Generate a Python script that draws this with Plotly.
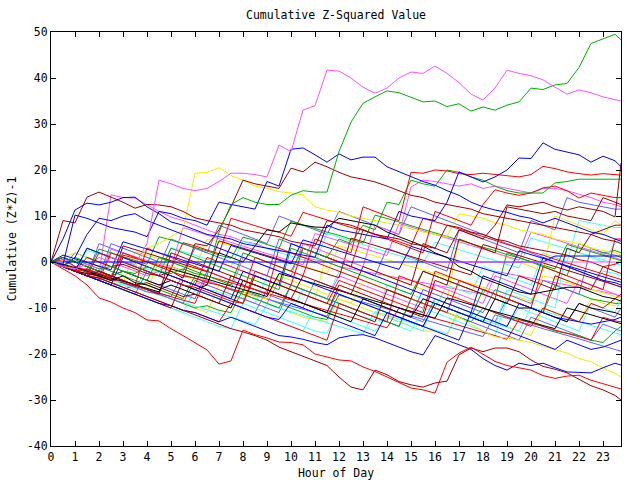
import plotly.graph_objects as go

# Half-hourly sample times (hours), last sample at 23:45
HOURS = [i * 0.5 for i in range(48)] + [23.75]

# colours (gnuplot-like palette)
RED = "#ff0000"; GREEN = "#00b000"; BLUE = "#0000ff"; MAGENTA = "#ff50ff"
CYAN = "#40ffff"; DARKRED = "#a00000"; YELLOW = "#eeee00"; SLATE = "#6060ff"; BLACK = "#000000"

# ---- series values (cumulative (Z*Z)-1), one per day ----
M1 = [0,-1,-1.5,-0.5, -1.5,1,0,-0.5, 4,17.8,17,16, 15.5,16,17.5,19.3, 19.3,19,18.5,25.4, 24,33,34,41.7,
      41.5,40,38,36.7, 37.8,40,41.3,41, 42.6,41,39,36.5, 35.2,37.8,41.7,41, 40.5,39.6,38,36.5, 37.4,36.8,35.9,35.3, 35]
G1 = [0,-1,0.5,-0.5, -1.5,-1,-2,-2.5, -1,-2,-2.5,-1.5, -2.5,-3,6.5,12.5, 14,13,12.5,12.5, 14.5,15.5,15.2,15.2,
      24,30.4,34.5,35.9, 37.2,36.8,35.8,34.8, 35,33.8,34.4,32.8, 33.7,33,34.1,34.8, 37.8,37.5,38.5,38.8, 42.3,47.5,48.5,49.5, 48.3]
B1 = [0,-0.5,10.2,9.5, 8.5,7.5,7,6.5, 5.5,11,10.5,9.5, 9,8,13,12.5, 12,11.5,17.5,16.5, 24.5,24.8,23.3,21.7,
      23.5,22.2,22.8,22.8, 20.7,19.6,18.5,17.5, 16.7,15.5,14.5,13, 12,11.3,10.8,10, 9.5,8.5,9.5,8.5, 7.5,6.5,6,5, 4.5]
B2 = [0,5,11.3,12.8, 12.4,13,14,14.1, 12,10.5,8.7,8, 7,6,5.5,5, 4,3.5,3,2.5, 2,1.5,1,8,
      7,6.5,6,5.5, 5,11,10,9.5, 9,13,19.6,18.5, 17.4,18.5,20,22.6, 22.5,25.9,24.5,23.9, 23.3,21.7,23,22, 20.7]
R1 = [0,-1.5,-3,-5, -7.8,-8.7,-10,-11, -12.6,-12.8,-14.5,-16, -17.5,-19.1,-22.2,-21.5, -14.8,-15.8,-16.5,-17.4, -17.5,-18,-20,-20.7,
      -21.3,-21.5,-22.8,-23.8, -25,-26.3,-27.4,-27.8, -28.5,-21.8,-19.8,-18.5, -20,-21.6,-22.5,-23, -23.5,-24.7,-25.3,-24.8, -24.6,-25.7,-26.5,-27.3, -27.6]
DR1 = [0,-1,-2,-3, -3.5,-4.5,-5.5,-6.5, -7.5,-8.5,-9.5,-10.5, -11.5,-12.5,-13.5,-14.5, -15.2,-16,-17,-18.5, -19.5,-20.5,-21.5,-22.5,
       -25,-27.2,-27.8,-23.5, -24.5,-26,-26.7,-27.2, -26.3,-25.9,-20.2,-18.7, -19.5,-18.7,-18.7,-19.5, -21.3,-22.7,-23.3,-24.1, -25.5,-26.9,-27.8,-29, -30]
B3 = [0,-1,-2,-3, -4,-5,-6,-7, -8,-9,-9.5,-10.5, -11,-12,-13,-12, -13,-14,-15,-16, -16.3,-16.8,-17.5,-18,
      -16.5,-16,-15.8,-16.5, -17.5,-18.5,-19.5,-20.2, -16,-17,-18,-19, -21,-22.5,-23.5,-22, -22.5,-22,-23,-23.9, -24,-24.1,-23,-22, -22.4]
Y1 = [0,-1,-1.5,-2.5, -3.5,-4.5,-4,-5, -6,0,-1,-2, -3,-4,-5,-6, -6.5,-7.5,-8,-3, -4,-5,-6,-7,
      -8,-9,-4,-5, -6,-7,-8,-9, -10,-11,-12,-13.5, -15,-16.3,-16.5,-17, -17.5,-18.3,-19,-19.8, -21,-21.7,-23,-24.2, -25]
DR2 = [0,9,8.5,14.1, 15.2,14.1,13,11.7, 12.5,12.4,12,11, 9.6,9,8.5,8, 7,6.5,6,5.5, 4.5,4,3.5,9,
       8.5,8,7,6, 5.5,5,4,3.5, 3,8,7.5,6.5, 6,5,4.5,3.5, 3,2.5,2,1.5, 0.5,0,-1,-2, -2.5]
DR3 = [0,-1,-2,1, 0,-1,-0.5,-1.5, -2.5,-3,-2,-3.5, 4,3.5,7,12, 17.8,17,16.5,16, 20.4,19.6,21.7,20.7,
       19.5,18.5,18,17.4, 16.5,15.5,14.5,14, 13,12.5,12,11.5, 10.5,10,9.5,9, 8.5,8,7.5,7, 6.5,6,5,4.5, 4]
DR4 = [0,-1,-2,-3, -2,-3,-4,-5, -4.5,-5.5,-6.5,-7.5, -7,-8,-9,-3, -4,-5,-6,-7, -8,-3,-4,-5,
       -6,-7,-1,-2, -3,-4,-5,4, 3,2,7,6, 5,8,12.4,12, 12.5,13,12,11.3, 12,11.5,11,9.8, 21.5]
R2 = [0,-1,-2,-1.5, -2.5,-3.5,2,1, 0,-1,-2,-3, -3.5,-4.5,-5,-6, -6.5,1,0,-1, -2,-3,5,4,
      3,2,12,11, 10,9,19.5,19.3, 20,19.8,19.2,19, 19.3,19,18.7,18.5, 19,20.8,20.3,19.6, 19.2,18.9,19.2,19, 18.9]
G2 = [0,1,0,-1, -2,-3,-2,-3, -4,1,0,-1, -2,-3,-4,-5, 2,1,0,-1, -2,3,2,1,
      5,4,8,7, 13,12.5,17.8,17, 16.5,20,19.5,18.5, 17.8,16.5,15.5,15, 15,15,17.2,17.5, 18,18,18,18, 18]
Y2 = [0,1,2,1, 0,-1,0,-1, 3,4,5.5,7, 19.3,19.5,20.5,18.8, 17.8,16.5,16,15.3, 15,14.6,12,11.3,
      10.8,10,9.5,9, 8.5,8,7.2,6.5, 6,5.5,10.5,10, 9.5,8.5,8,7, 6.5,6,5,4.5, 4,3,2.5,2, 1.5]
M2 = [0,-1,-2,-1.5, -2.5,14.6,14,13.9, 12.5,11,9.8,9, 8,7,6,5.5, 4.5,4,3,2.5, 2,1,0.5,0,
      -1,-1.5,-2,-2.5, -3,-3.5,-4,-4.5, -5,-5.5,-6,-6.5, -7,-2,-2.5,-3, -3.5,-4,-4.5,-5, -5.5,-6,-6.5,-7, -7.5]
M3 = [0,1,0,-1, 1,0,-1,-2, -3,-2,-3,-4, -5,-4,-5,-6, 1,0,-1,-2, -3,4,3,2,
      1,0,-1,8, 7,6,16.3,17.8, 17.5,17,16.5,17, 16,16.5,16,15.5, 15,16,16,15.5, 14.8,14,13,12.5, 12]
M4 = [0,-1,-2,-3, -4,-3,-4,-5, -6,-7,-1,-2, -3,-4,-5,-6, -7,-8,-9,-4, -5,-6,-7,-8,
      -3,-4,-5,-6, -7,-8,-9,-10, -5,-6,-7,-8, -9,-3,-4,-5, -6,-7,-8,-9, -4,-5,-6,-7, -7.5]
R3 = [0,-1,-2,-3, 2,1,0,-1, -2,-3,-4,-5, -5.5,-6.5,-7.5,-8.5, -9,-2,-3,-4, -5,3,2,1,
      0,-1,7,6, 5,4,3,2, 11,10,9,8, 12.5,15.7,15,14.5, 15,16.1,16.5,15.5, 13.9,15,14.5,14, 14]
S1 = [0,1,-1,-2, -3,4,3,2, 1,0,-1,-2, 3,2,1,0, -1,-2,-3,5, 4,3,2,1,
      0,-1,-2,-3, 3,2,1,0, -1,-2,7,6, 5,4,3,2, 9,8,7,14, 13,12.5,12,11.5, 11.5]
C1 = [0,-1,-2,-3, -3.5,-4.5,-5,-6, -1,-2,-3,-4, -5,-6,-6.5,-7.5, -8,-9,-3,-4, -5,-6,-7,-8,
      -2,-3,-4,-5, -6,-7,-8,-9, -10,-5,-6,-7, -1,-2,-3,-4, -5,2,1,0, 9,8.5,8,7.5, 7.5]
K1 = [0,1,0,-1, -2,-3,-2,-3, -4,-5,-4,-5, -6,-5,2,1, 0,3.5,7,6.5, 8.5,8,7.6,7.5,
      9.5,9,8.5,8, 6.5,5.5,4.5,3.5, 2,1,-1,-2, -3.5,-4.5,-5.5,-6.5, -7,-6.5,-6,-5.5, -5.5,-6.5,-7.5,-8, -8.5]
K2 = [0,-1,-2,-2.5, -3,-4,-3,-4.5, -5,-6,-5,-6, -7,-8,-9,-10, -4,-5,-6,-7, -8,-9,-10,-11,
      -12,-13,-8,-9, -10,-11,-12,-8, -9,-10,-11,-12, -13,-8,-9,-10, -10,-11,-12,-13, -9,-10,-10.5,-11, -11.5]
B4 = [0,-1,-2,-3, -4,-5,1,0, -1,-2,-3,-4, -5,-6,-7,-8, -2,-3,-4,-5, 4,3,2,1,
      0,-1,-2,-3, -4,-5,-6,-7, -8,-9,-10,-11, -3,-4,-5,-6, -7,1,0,-1, -2,-3,-4,-4.5, -5]
B5 = [0,-1,-2,3, 2,1,0,-1, -2,-3,-4,-5, -6,-7,-8,-9, -10,-11,-12,-12.5, -9,-10,-11,-12,
      -13,-14,-15,-16, -11,-12,-13,-14, -15,-16,-17,-11, -12,-13,-14,-9, -10,-11,-12,-12.5, -13,-13.5,-13,-12.5, -12]
S2 = [0,-1,-2,-3, -4,-5,-6,-7, -2,-3,-4,-5, -6,-7,-8,-9, -10,-11,-6,-7, -8,-9,-10,-11,
      -6,-7,-8,-9, -10,-11,-12,-13, -8,-9,-10,-11, -12,-13,-8,-9, -10,-11,-12,-13, -9,-10,-11,-12, -10]
S3 = [0,-1,-2,-1.5, -2.5,-3.5,-4.5,-5.5, -6.5,-7,-8,-9, -4,-5,-6,-7, -8,-9,-10,-11, -5,-6,-7,-8,
      -9,-10,-11,-12, -13,-14,-8,-9, -10,-11,-12,-13, -14,-15,-16,-17, -12,-13,-14,-15, -16,-17,-13.5,-14.5, -15]
S4 = [0,-1,2,1, 0,-1,-2,-3, -4,-5,-6,-7, -8,-2,-3,-4, -5,-6,-7,-8, -9,-10,-4,-5,
      -6,-7,-8,-9, -10,-11,-12,-6, -7,-8,-9,-10, -11,-6,-7,-8, -9,-4,-5,-6, -7,3,2,1.5, 1]
C2 = [0,-1,-2,-3, -4,-5,-6,-7, -8,-9,-10,-11, -12,-13,-14,-14.5, -9,-10,-11,-12, -13,-14,-15,-15.5,
      -10,-11,-12,-12.5, -13,-14,-15,-10, -11,-12,-13,-14, -15,-16,-8,-9, -10,-11,-3,-4, -5,-6,-2,-2.5, -3]
C3 = [0,1,0,-1, -2,-3,3,2, 1,0,-1,-2, -3,-4,-5,-6, -7,-8,-9,-10, -11,-6,-7,-8,
      -9,-10,-11,-12, -5,-6,-7,-8, -9,-10,-11,-12, -13,-14,-6,-7, -8,-9,-10,3, 2,1,0,4, 5]
G3 = [0,-1,1,0, -1,-2,-3,-4, -5,-6,-7,-8, -3,-4,-5,-6, -7,-8,-9,-10, -5,-6,-7,-8,
      -9,-10,-11,-12, -13,-14,-8,-9, -10,-11,-12,-13, -10,-11,-12,-12.5, -13,-14,-15,-15.5, -16,-17,-17.5,-15, -14]
G4 = [0,-1,-2,3, 2,1,0,-1, -2,-3,3,2, 1,0,-1,-2, -3,-4,-5,-6, 3,2,1,0,
      -1,-2,-3,-4, -5,-6,-7,-2, -3,-4,-5,-6, -7,-8,2,1, 0,-1,-2,-3, 4,3,2,2.5, 2]
G5 = [0,-1,-2,-3, -4,-5,-6,-5, -6,-7,-8,-9, -10,-9.5,-10.5,-11, -6,-7,-8,-9, -10,-11,-12,-12.5,
      -7,-8,-9,-10, -11,-12,-13,-14, -9,-10,-11,-12, -6,-7,-8,-9, -10,-11,-5,-6, -7,-8,-8.5,-9, -9]
R4 = [0,-1,-2,-3, -4,2,1,0, -1,-2,-3,-4, -5,1,0,-1, -2,-3,-4,-5, -6,-7,-8,-9,
      -4,-5,-6,-7, -8,-9,-10,-11, -2,-3,-4,-5, -6,-7,-8,-9, -10,-1,-2,-3, -4,-5,-6,5, 5]
R5 = [0,-1,-2,-3, -3.5,-4.5,-5.5,-6.5, -7.5,-8.5,-9.5,-10.5, -11,-12,-13,-9, -10,-11,-12,-13, -14,-15,-16,-17,
      -9,-10,-11,-12, -13,-3,-4,-5, -6,-7,-8,-9, -10,-11,-12,-13, -14,-10,-11,-12, -13,-9,-10,-8, -7]
R6 = [0,1,0,-1, -2,-3,-4,-5, 3,2,1,0, -1,-2,-3,-4, -5,-6,-7,3, 2,1,0,-1,
      -2,-3,-4,-5, -6,-7,-8,-9, -10,-11,-4,-5, -6,-7,-8,-9, -10,-11,-3,-4, -5,-6,-1,-0.5, 0]
DR5 = [0,-1,-2,-3, -4,-5,-6,-7, -8,-9,-10,-4, -5,-6,-7,-8, -9,-3,-4,-5, -6,-7,-8,-9,
       -10,-11,-12,-13, -6,-7,-8,-2, -3,-4,-5,-6, -7,-8,-9,-3, -4,-5,-6,3, 2,6,7,8, 8]
DR6 = [0,-1,-2,-3, -2,-3,-4,-5, -6,-7,2,1, 0,-1,-2,-3, -4,-5,-6,-7, -8,-9,-10,-11,
       -5,-6,-7,-8, -9,-10,-11,-12, -4,-5,5,4, 3,2,12,11.5, 11,10.5,11,10, 9.5,9,14,13, 12.5]
Y3 = [0,-1,-2,-3, -2,-3,-4,-5, -6,-7,-8,-9, -10,-11,-5,-6, -7,-8,-9,-10, -11,-12,-12.5,-13,
      -8,-9,-10,-11, -12,-13,-14,-15, -15,-16,-10,-11, -12,-13,-14,-15, -16,-10,-11,-12, -13,-8,-9,-9.5, -8]
Y4 = [0,1,0,-1, -2,-3,2,1, 0,-1,-2,-3, -4,-5,-6,-7, -8,-3,-4,-5, -6,-7,-8,2,
      1,0,-1,-2, -3,-4,-5,-6, -7,-8,5,4, 3,2,1,0, -1,-2,10,9, 8,7,6,9, 8]
C4 = [0,-1,-2,-3, -4,-5,-6,-7, -8,-9,-10,-11, -6,-7,-8,-9, -10,-11,-12,-13, -14,-15,-10,-11,
      -12,-13,-14,-15, -12,-13,-14,-15, -8,-9,-10,-11, -12,-13,-14,-10, -11,-12,-13,-14, -15,-9,-10,-11, -8]
B6 = [0,-1,1,6, 9.5,9,10,10.5, 9,8,7,6, 5,4,3,2, 1,0,-1,-2, -3,-4,-5,-6,
      -7,-8,-9,-10, -11,-12,-13,-14, -9,-10,-11,-12, -13,-14,-15,-16, -17,-18,-19,-17, -18,-19,-18.5,-17.5, -17]
N1 = [0,-1,-2,-3, 4,3,2,1, 0,-1,5,4, 3,2,8,7, 6,5,4,10, 9,8,7,6,
      11,10,9,8, 7,6,12,11, 10,9,8,7, 6,5,4,3, 2,1,0,-1, -2,-3,-4,-5, -5.5]
N2 = [0,0.5,-1,-1.8, -2.5,-3.2,1.5,0.8, 0,-0.8,-1.5,4.2, 3.5,2.6,1.8,9.5, 8.7,8,7.1,6.5, 5.6,10.8,10,9.2,
      8.4,7.5,6.9,6, 5.2,4.4,3.5,9.5, 8.8,8,7.2,6.4, 5.5,4.7,3.8,3.1, 2.2,1.5,0.6,-0.2, -1,-1.8,-2.5,-3.4, -3.8]
N3 = [0,-0.7,-1.5,-2.4, 2.8,2,1.2,0.3, -0.5,5.5,4.8,3.9, 3.2,2.4,1.5,0.8, 5.4,4.7,3.8,3, 8.9,8.1,7.2,6.5,
      5.8,5,4.1,10.2, 9.5,8.7,7.9,7.1, 6.4,5.5,4.8,4, 3.2,2.5,1.6,0.9, 0.1,-0.7,-1.5,3.8, 3,2.2,1.5,0.7, 0.3]
N4 = [0,-0.8,-1.7,2.5, 1.7,0.9,0.1,-0.7, -1.5,-2.3,3.1,2.3, 1.5,0.6,-0.2,-1, 4.5,3.7,2.9,2.1, 1.3,0.5,-0.3,6.2,
      5.4,4.5,3.8,3, 2.2,1.4,0.6,-0.2, 4.3,3.5,2.7,1.9, 1.1,0.3,-0.5,-1.3, 5.2,4.4,3.6,2.8, 2,1.2,0.5,-0.3, -0.7]
N5 = [0,-0.9,-1.8,-2.6, -3.5,2.8,2,1.1, 0.3,-0.5,-1.3,7.5, 6.7,5.9,5,4.2, 3.4,2.6,1.8,1, 0.2,-0.6,6.2,5.4,
      4.6,3.8,3,2.2, 1.4,8.4,7.6,6.8, 6,5.2,4.4,3.6, 2.8,2,1.2,0.4, 6.5,5.7,4.9,4.1, 3.3,2.5,1.7,0.9, 0.5]
N6 = [0,1.5,0.7,-0.1, -0.9,-1.7,4.4,3.6, 2.8,2,1.2,0.4, -0.4,-1.2,-2,3.6, 2.8,2,1.2,0.4, -0.4,4.8,4,3.2,
      2.4,1.6,0.8,0, -0.8,-1.6,3.4,2.6, 1.8,1,0.2,-0.6, -1.4,-2.2,-3,2.4, 1.6,0.8,0,-0.8, -1.6,-2.4,-3.2,-4, -4.4]
N7 = [0,-0.6,-1.4,-2.1, -2.9,-3.6,-4.4,2.2, 1.5,0.7,0,-0.8, -1.5,5,4.3,3.5, 2.8,2,1.3,0.5, -0.2,-1,-1.7,-2.5,
      3.5,2.8,2,1.3, 0.5,-0.2,-1,-1.7, -2.5,-3.2,-4,-4.7, -5.5,-6.2,-7,-7.7, -8.5,-3,-3.7,-4.5, -5.2,-6,-6.7,-7.5, -7.9]
N8 = [0,-0.8,-1.6,-2.4, -3.2,-4,3.5,2.7, 1.9,1.1,0.3,-0.5, -1.3,-2.1,4.6,3.8, 3,2.2,1.4,0.6, -0.2,-1,-1.8,-2.6,
      -3.4,5.2,4.4,3.6, 2.8,2,1.2,0.4, -0.4,-1.2,-2,-2.8, 3.8,3,2.2,1.4, 0.6,-0.2,-1,-1.8, -2.6,-3.4,-4.2,-5, -5.4]
N9 = [0,-0.5,-1.2,-2, -2.7,-3.5,-4.2,-5, -5.7,-6.5,-1.5,-2.2, -3,-3.7,-4.5,-5.2, -6,-6.7,-7.5,-2.5, -3.2,-4,-4.7,-5.5,
      -6.2,-7,-7.7,-8.5, -9.2,-10,-10.7,-11.5, -12.2,-7.8,-8.5,-9.3, -10,-10.8,-11.5,-12.3, -13,-13.8,-14.5,-10, -10.7,-11.5,-12.2,-13, -13.4]
N10 = [0,-0.7,-1.5,-2.2, -3,-3.7,-4.5,-5.2, -6,-6.7,-7.5,-2.8, -3.5,-4.3,-5,-5.8, -6.5,-7.3,-8,-8.8, -9.5,-10.3,-11,-11.8,
       -7.2,-8,-8.7,-9.5, -10.2,-11,-11.7,-12.5, -13.2,-14,-14.7,-15.5, -16.2,-11.5,-12.2,-13, -13.7,-14.5,-15.2,-16, -16.7,-17.5,-18.2,-19, -19.4]
N11 = [0,-0.8,-1.5,-2.3, -3,-3.8,-4.5,-5.3, -6,-6.8,-7.5,-8.3, -9,-3,-3.8,-4.5, -5.3,-6,-6.8,-7.5, -8.3,-9,-9.8,-10.5,
       -11.3,-12,-12.8,-13.5, -14.3,-10,-10.8,-11.5, -12.3,-13,-13.8,-14.5, -15.3,-16,-16.8,-12.5, -13.3,-14,-14.8,-15.5, -16.3,-17,-12,-12.8, -13]
N12 = [0,-0.8,-1.6,-2.4, -3.2,-4,-4.8,-5.6, -6.4,-7.2,-8,-8.8, -9.6,-10.4,-11.2,-12, -12.8,-13.6,-9.2,-10, -10.8,-11.6,-12.4,-13.2,
       -14,-14.8,-15.6,-10.8, -11.6,-12.4,-13.2,-14, -14.8,-15.6,-11,-11.8, -12.6,-13.4,-14.2,-15, -9.8,-10.6,-11.4,-12.2, -13,-13.8,-14.6,-15.4, -15.8]
BF = [0] * 42 + [1.3] * 7
MF = [None] * 31 + [0] * 18

SERIES = [
    ("M2", MAGENTA, M2), ("C1", CYAN, C1), ("Y3", YELLOW, Y3), ("S2", SLATE, S2), ("G5", GREEN, G5),
    ("N12", CYAN, N12), ("N7", YELLOW, N7), ("N1", SLATE, N1), ("N4", CYAN, N4), ("N10", SLATE, N10),
    ("C2", CYAN, C2), ("Y4", YELLOW, Y4), ("S3", SLATE, S3), ("C3", CYAN, C3), ("C4", CYAN, C4),
    ("M4", MAGENTA, M4), ("G4", GREEN, G4), ("S4", SLATE, S4), ("S1", SLATE, S1), ("G3", GREEN, G3),
    ("N5", MAGENTA, N5), ("N3", GREEN, N3), ("N8", DARKRED, N8), ("N2", RED, N2), ("N11", RED, N11),
    ("Y1", YELLOW, Y1), ("Y2", YELLOW, Y2), ("M3", MAGENTA, M3), ("R6", RED, R6), ("R5", RED, R5),
    ("R4", RED, R4), ("DR5", DARKRED, DR5), ("DR6", DARKRED, DR6), ("K2", BLACK, K2), ("B4", BLUE, B4),
    ("N6", BLUE, N6), ("N9", BLACK, N9),
    ("B5", BLUE, B5), ("B6", BLUE, B6), ("K1", BLACK, K1), ("R3", RED, R3), ("G2", GREEN, G2),
    ("R2", RED, R2), ("DR2", DARKRED, DR2), ("DR3", DARKRED, DR3), ("DR4", DARKRED, DR4),
    ("B3", BLUE, B3), ("DR1", DARKRED, DR1), ("R1", RED, R1), ("B1", BLUE, B1), ("B2", BLUE, B2),
    ("G1", GREEN, G1), ("M1", MAGENTA, M1), ("BF", BLUE, BF), ("MF", MAGENTA, MF),
]

X_TICKS = list(range(0, 24))
Y_TICKS = [-40, -30, -20, -10, 0, 10, 20, 30, 40, 50]
Y_TICK_LABELS = [str(v) for v in Y_TICKS]

FONT = "DejaVu Sans Mono"

fig = go.Figure()
for name, color, vals in SERIES:
    fig.add_trace(go.Scatter(x=HOURS[:len(vals)], y=vals, mode="lines", name=name,
                             line=dict(color=color, width=1), hoverinfo="skip"))

axis_common = dict(showline=True, linecolor="black", linewidth=1, mirror="ticks",
                   ticks="inside", ticklen=5, tickcolor="black", showgrid=False, zeroline=False,
                   automargin=False,
                   tickfont=dict(family=FONT, size=11.5, color="black"))

fig.update_layout(
    width=640, height=480,
    margin=dict(l=51, r=19, t=32, b=34),
    paper_bgcolor="white", plot_bgcolor="white",
    showlegend=False,
    title=dict(text="Cumulative Z-Squared Value", x=0.5, xref="paper", y=1 - 15 / 480,
               yanchor="middle", font=dict(family=FONT, size=11.5, color="black")),
    xaxis=dict(range=[0, 23.75], tickvals=X_TICKS, title=dict(text="Hour of Day", standoff=7,
               font=dict(family=FONT, size=11.5, color="black")), **axis_common),
    yaxis=dict(range=[-40, 50], tickvals=Y_TICKS, ticktext=Y_TICK_LABELS,
               title=dict(text="Cumulative (Z*Z)-1", standoff=7,
                          font=dict(family=FONT, size=11.5, color="black")), **axis_common),
)

fig.write_html("out.html")
